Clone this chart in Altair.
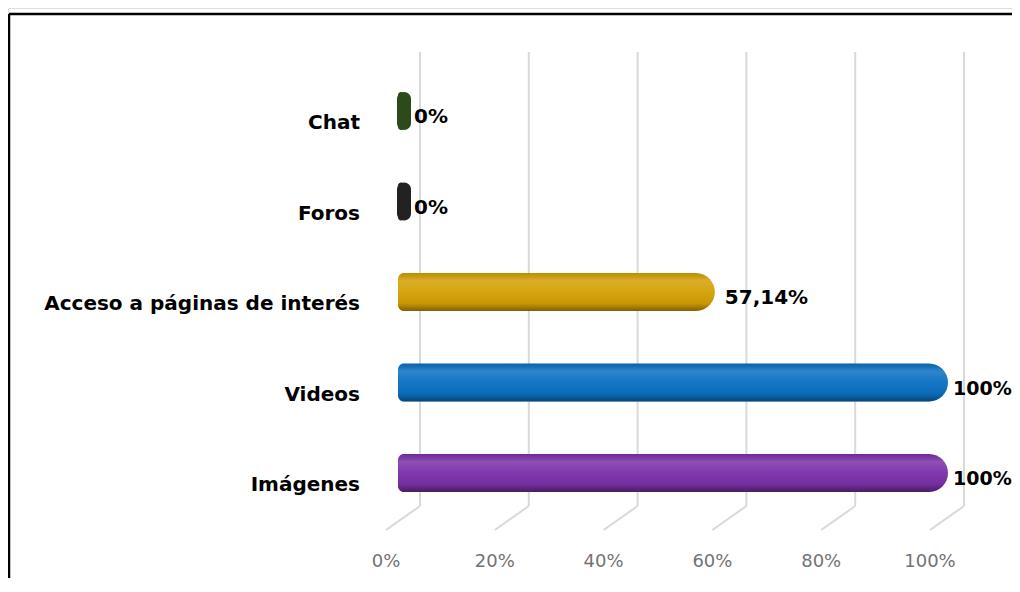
import altair as alt
import pandas as pd

categories = ["Chat", "Foros", "Acceso a páginas de interés", "Videos", "Imágenes"]
values = [0, 0, 57.14, 100, 100]
value_labels = ["0%", "0%", "57,14%", "100%", "100%"]
colors = ["#2C4A1A", "#222222", "#D4A004", "#0A70C2", "#7A30A8"]
ticks = [0, 20, 40, 60, 80, 100]
tick_labels = ["0%", "20%", "40%", "60%", "80%", "100%"]

df = pd.DataFrame({"cat": categories, "value": values, "label": value_labels, "start": [0] * 5})
tdf = pd.DataFrame({"tick": ticks, "tlabel": tick_labels})
one = pd.DataFrame({"a": [0]})

FONT = "DejaVu Sans"
xs = alt.Scale(domain=[0, 100], range=[392, 936])
ys = alt.Scale(domain=categories, range=[57.75, 510.25], paddingInner=0, paddingOuter=0)
Y = alt.Y("cat:N", scale=ys, axis=None, sort=categories)
cscale = alt.Scale(domain=categories, range=colors)

base = alt.Chart(df)
tb = alt.Chart(tdf)

grid = tb.mark_rule(color="#d9d9d9", strokeWidth=2, xOffset=20).encode(
    x=alt.X("tick:Q", scale=xs, axis=None), y=alt.value(44), y2=alt.value(498)
)
diag = tb.mark_rule(color="#d9d9d9", strokeWidth=2, xOffset=20, x2Offset=-14).encode(
    x=alt.X("tick:Q", scale=xs, axis=None), x2="tick:Q", y=alt.value(498), y2=alt.value(522)
)
tlab = tb.mark_text(font=FONT, fontSize=18, color="#737373", xOffset=-14, baseline="middle").encode(
    x=alt.X("tick:Q", scale=xs, axis=None), y=alt.value(554), text="tlabel:N"
)

bars = base.mark_bar(
    height=38, xOffset=-2, x2Offset=4,
    cornerRadiusTopLeft=6, cornerRadiusBottomLeft=6,
    cornerRadiusTopRight=19, cornerRadiusBottomRight=19,
).encode(
    x=alt.X("start:Q", scale=xs, axis=None), x2="value:Q", y=Y,
    color=alt.Color("cat:N", scale=cscale, legend=None),
)
zero_caps = base.transform_filter("datum.value == 0").mark_bar(
    height=38, xOffset=-3, x2Offset=11, cornerRadius=7
).encode(
    x=alt.X("start:Q", scale=xs, axis=None), x2="value:Q", y=Y,
    color=alt.Color("cat:N", scale=cscale, legend=None),
)
shade = alt.LinearGradient(
    gradient="linear", x1=0, y1=0, x2=0, y2=1,
    stops=[
        alt.GradientStop(offset=0, color="rgba(0,0,0,0.10)"),
        alt.GradientStop(offset=0.2, color="rgba(255,255,255,0.15)"),
        alt.GradientStop(offset=0.5, color="rgba(255,255,255,0.04)"),
        alt.GradientStop(offset=0.8, color="rgba(0,0,0,0.06)"),
        alt.GradientStop(offset=1, color="rgba(0,0,0,0.40)"),
    ],
)
bar_shade = base.transform_filter("datum.value > 0").mark_bar(
    height=38, xOffset=-2, x2Offset=4, color=shade,
    cornerRadiusTopLeft=6, cornerRadiusBottomLeft=6,
    cornerRadiusTopRight=19, cornerRadiusBottomRight=19,
).encode(x=alt.X("start:Q", scale=xs, axis=None), x2="value:Q", y=Y)

cat_labels = base.mark_text(font=FONT, fontSize=20, fontWeight="bold", color="#000000",
                            align="right", baseline="middle", dy=12).encode(
    x=alt.value(352), y=Y, text="cat:N"
)
val_labels = base.transform_filter("datum.value < 100").mark_text(
    font=FONT, fontSize=20, fontWeight="bold", color="#000000",
    align="left", baseline="middle", dx=14, dy=6).encode(
    x=alt.X("value:Q", scale=xs, axis=None), y=Y, text="label:N"
)
val_labels_full = base.transform_filter("datum.value >= 100").mark_text(
    font=FONT, fontSize=19, fontWeight="bold", color="#000000",
    align="left", baseline="middle", dx=9, dy=6).encode(
    x=alt.X("value:Q", scale=xs, axis=None), y=Y, text="label:N"
)

oc = alt.Chart(one)
frame_top = oc.mark_rule(color="#000000", strokeWidth=2.5).encode(
    x=alt.value(1), x2=alt.value(1004), y=alt.value(6)
)
frame_left = oc.mark_rule(color="#000000", strokeWidth=2.5).encode(
    x=alt.value(1), y=alt.value(6), y2=alt.value(570)
)

chart = alt.layer(
    grid, diag, tlab, bars, zero_caps, bar_shade, cat_labels, val_labels, val_labels_full,
    frame_top, frame_left
).properties(
    width=1004, height=570, autosize=alt.AutoSizeParams(type="none"), padding=0
).configure_view(stroke=None).configure(background="white")

chart.save("out.html", embed_options={"renderer": "svg", "actions": False})
